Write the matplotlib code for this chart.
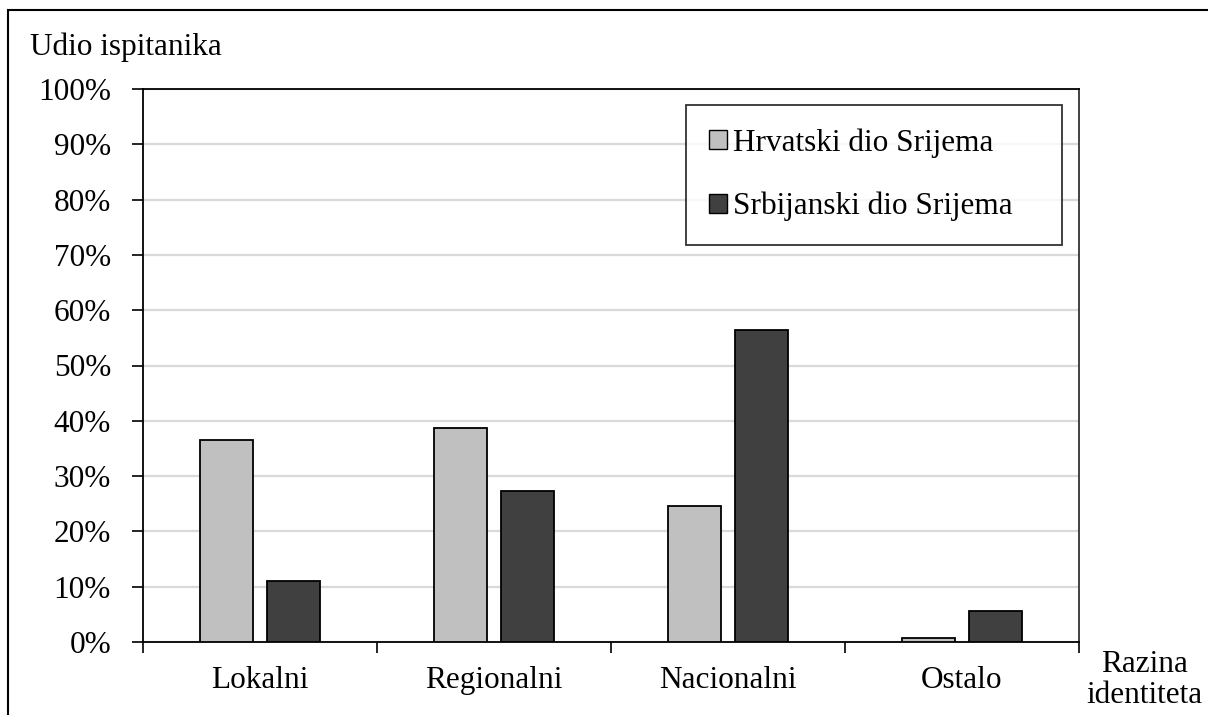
import matplotlib.pyplot as plt
import numpy as np
from matplotlib.patches import Rectangle

categories = ['Lokalni', 'Regionalni', 'Nacionalni', 'Ostalo']
hrvatski = [36.5, 38.7, 24.6, 0.7]
srbijanski = [11.0, 27.3, 56.5, 5.6]
series_names = ['Hrvatski dio Srijema', 'Srbijanski dio Srijema']
yticks = [0, 10, 20, 30, 40, 50, 60, 70, 80, 90, 100]

plt.rcParams['font.family'] = ['Liberation Serif', 'DejaVu Serif']
fs = 22.5

fig = plt.figure(figsize=(12.08, 7.15), dpi=100)
ax = fig.add_axes([143 / 1208, 1 - 642 / 715, (1079 - 143) / 1208, (642 - 89) / 715])

centers = np.arange(len(categories)) + 0.5
w = 0.225
off = 0.143
ax.bar(centers - off, hrvatski, w, color='#c0c0c0', edgecolor='black', linewidth=1.3,
       label=series_names[0], zorder=3)
ax.bar(centers + off, srbijanski, w, color='#404040', edgecolor='black', linewidth=1.3,
       label=series_names[1], zorder=3)

ax.set_xlim(0, len(categories))
ax.set_ylim(0, 100)
ax.set_yticks(yticks)
ax.set_yticklabels([f'{v}%' for v in yticks], fontsize=fs)
ax.yaxis.grid(True, color='#d9d9d9', linewidth=1.6, zorder=0)
ax.set_axisbelow(True)
ax.tick_params(axis='y', direction='out', length=8, width=1.2, pad=15)

# category boundaries as major ticks, labels on minor ticks
ax.set_xticks(np.arange(len(categories) + 1))
ax.set_xticklabels([])
ax.set_xticks(centers, minor=True)
ax.set_xticklabels(categories, minor=True, fontsize=fs)
ax.tick_params(axis='x', which='major', direction='out', length=8, width=1.2)
ax.tick_params(axis='x', which='minor', length=0, pad=17)

for s in ['left', 'bottom', 'top']:
    ax.spines[s].set_linewidth(1.3)
    ax.spines[s].set_color('black')
ax.spines['right'].set_linewidth(1.3)
ax.spines['right'].set_color('#333333')

fig.text(30 / 1208, 1 - 47 / 715, 'Udio ispitanika', fontsize=fs, ha='left', va='center')
fig.text(1144 / 1208, 1 - 680 / 715, 'Razina\nidentiteta', fontsize=fs, ha='center',
         va='center', linespacing=1.12)

leg = ax.legend(loc='upper left',
                bbox_to_anchor=(686 / 1208, 1 - 238 / 715, (1062 - 686) / 1208, (238 - 105) / 715),
                bbox_transform=fig.transFigure, mode='expand', borderaxespad=0, fontsize=fs,
                frameon=True, fancybox=False, handlelength=0.55, handleheight=0.55,
                handletextpad=0.2, labelspacing=1.08, borderpad=0.75)
leg.get_frame().set_edgecolor('black')
leg.get_frame().set_linewidth(1.3)
for p in leg.get_patches():
    p.set_linewidth(1.0)

# outer border of the chart area
fig.patches.append(Rectangle((8 / 1208, -0.1), 1.1, 1 - 10 / 715 + 0.1,
                             transform=fig.transFigure, fill=False,
                             edgecolor='black', linewidth=1.5))

plt.savefig('out.png', dpi=100)
